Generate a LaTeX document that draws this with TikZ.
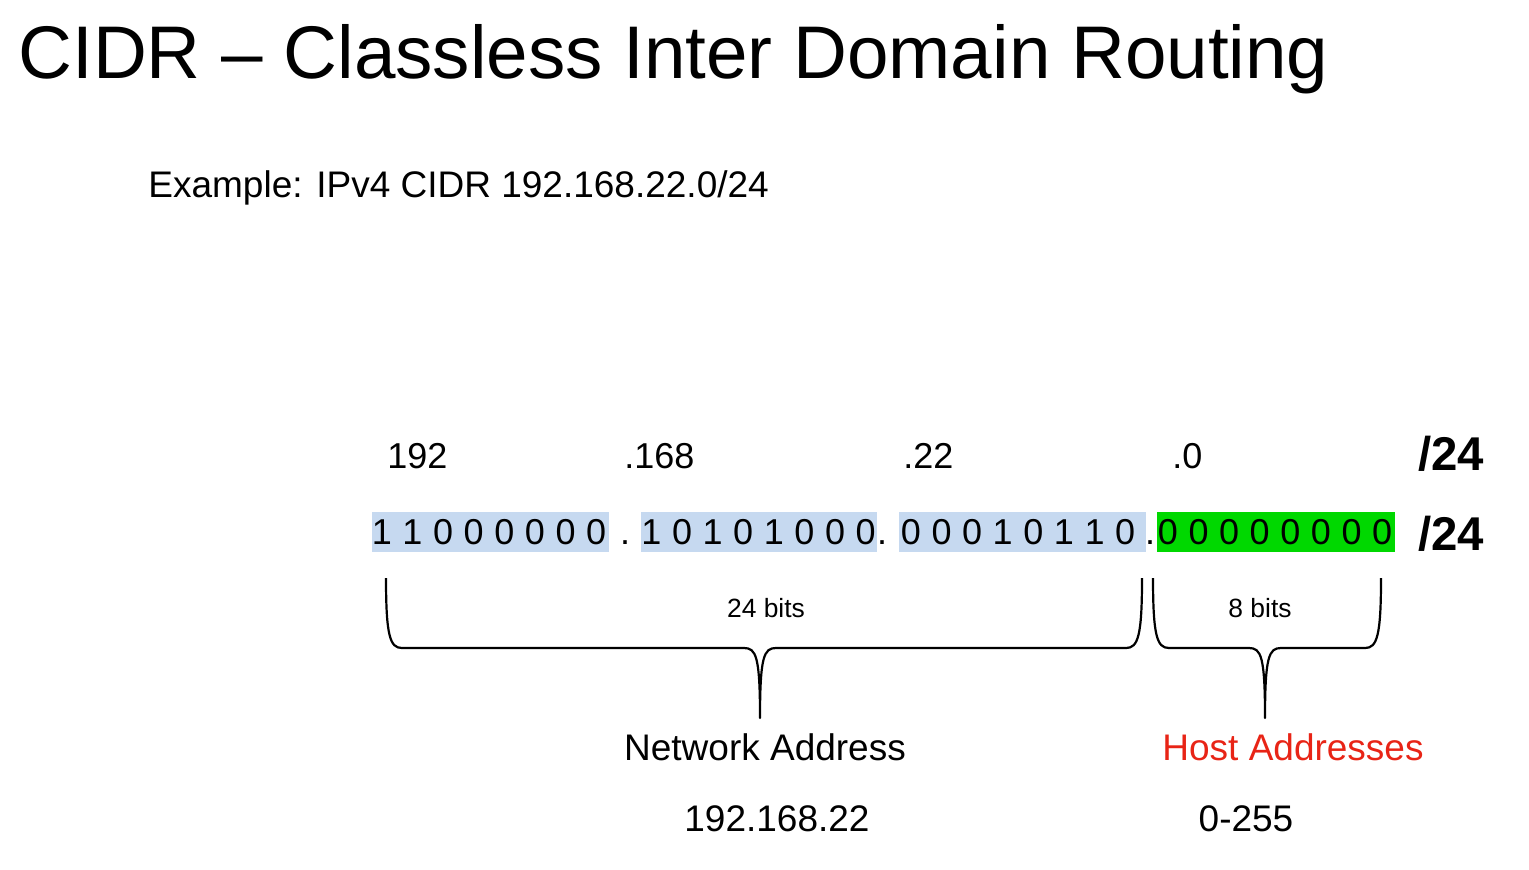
\documentclass[tikz,border=0pt]{standalone}
\usepackage{fontspec}
\setmainfont{Liberation Sans}
\definecolor{netblue}{RGB}{198,217,240}
\definecolor{hostgreen}{RGB}{0,216,0}
\definecolor{hostred}{RGB}{232,36,22}
\begin{document}
\begin{tikzpicture}[x=0.5pt,y=-0.5pt]
    \tikzstyle{txt}=[inner sep=0pt,anchor=base west,font=\fontsize{18.5}{22}\selectfont]
    \tikzstyle{bit}=[inner sep=0pt,anchor=base,font=\fontsize{18}{22}\selectfont]
    \tikzstyle{octet}=[inner sep=0pt,minimum height=20pt]
    \tikzstyle{mask}=[inner sep=0pt,anchor=base west,font=\fontsize{23.7}{28}\selectfont\bfseries]
    \tikzstyle{count}=[inner sep=0pt,anchor=base,font=\fontsize{13.2}{16}\selectfont]
    \tikzstyle{brace}=[line width=1.1pt,line join=round]
    \useasboundingbox (0,0) rectangle (1529,869);
    % heading
    \node[txt,font=\fontsize{37.3}{44}\selectfont] (title) at (18,78) {CIDR – Classless Inter Domain Routing};
    \node[txt] (example) at (148,197) {Example: IPv4 CIDR 192.168.22.0/24};
    % decimal octets
    \node[txt,font=\fontsize{18}{22}\selectfont] (dec1) at (387,468) {192};
    \node[txt,font=\fontsize{18}{22}\selectfont] (dec2) at (624,468) {.168};
    \node[txt,font=\fontsize{18}{22}\selectfont] (dec3) at (903,468) {.22};
    \node[txt,font=\fontsize{18}{22}\selectfont] (dec4) at (1172,468) {.0};
    \node[mask] (mask1) at (1418,470) {/24};
    % binary octets
    \foreach \cx/\dx/\w/\col/\bitlist [count=\k] in {490.5/489/118.5pt/netblue/{1,1,0,0,0,0,0,0},
        759/758.5/118pt/netblue/{1,0,1,0,1,0,0,0},
        1022.5/1018/123.5pt/netblue/{0,0,0,1,0,1,1,0},
        1276/1275/119pt/hostgreen/{0,0,0,0,0,0,0,0}} {
      \node[octet,fill=\col,minimum width=\w] (oct\k) at (\cx,532) {};
      \foreach \d [count=\i] in \bitlist
        \node[bit] (bit\k-\i) at ({\dx+30.6*(\i-4.5)},544) {\d};
    }
    \node[bit] (dot1) at (625,544) {.};
    \node[bit] (dot2) at (882,544) {.};
    \node[bit] (dot3) at (1150,544) {.};
    \node[mask] (mask2) at (1418,550) {/24};
    % braces
    \coordinate (netL) at (386,578);
    \coordinate (netR) at (1142,578);
    \coordinate (netTip) at (760,718);
    \coordinate (hostL) at (1153,578);
    \coordinate (hostR) at (1381,578);
    \coordinate (hostTip) at (1265,718);
    \draw[brace] (netL) .. controls (386,636) and (390,648) .. (402,648) -- (744,648)
      .. controls (756,648) and (760,656) .. (netTip)
      .. controls (760,656) and (764,648) .. (776,648) -- (1126,648)
      .. controls (1138,648) and (1142,636) .. (netR);
    \draw[brace] (hostL) .. controls (1153,636) and (1157,648) .. (1169,648) -- (1249,648)
      .. controls (1261,648) and (1265,656) .. (hostTip)
      .. controls (1265,656) and (1269,648) .. (1281,648) -- (1365,648)
      .. controls (1377,648) and (1381,636) .. (hostR);
    \node[count] (netbits) at (766,617) {24 bits};
    \node[count] (hostbits) at (1260,617) {8 bits};
    % results
    \node[txt,anchor=base] (netname) at (765,760) {Network Address};
    \node[txt,anchor=base,text=hostred] (hostname) at (1293,760) {Host Addresses};
    \node[txt,anchor=base] (netval) at (777,831) {192.168.22};
    \node[txt,anchor=base] (hostval) at (1246,831) {0-255};
\end{tikzpicture}
\end{document}
